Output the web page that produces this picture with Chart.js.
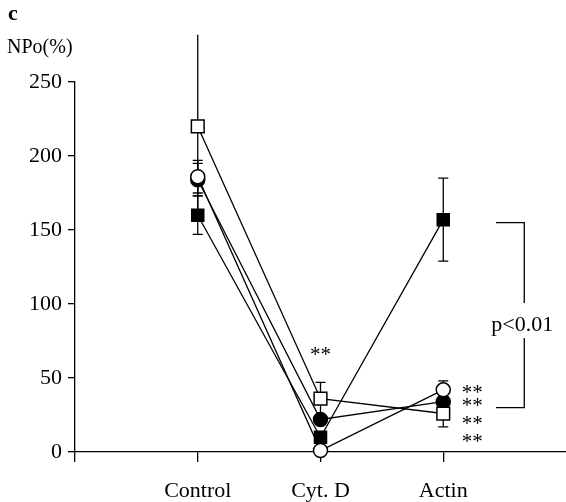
<!DOCTYPE html>
<html>
  <head>
    <title>NPo</title>
    <script src="https://cdn.jsdelivr.net/npm/chart.js"></script>
    <style>
      body,
      html {
        margin: 0;
        padding: 0;
        background-color: white;
        overflow: hidden;
      }
      #wrap {
        position: relative;
        width: 566px;
        height: 502px;
      }
    </style>
  </head>
  <body>
    <div id="wrap">
      <canvas id="chartCanvas"></canvas>
    </div>
    <script>
      const categories = ["Control", "Cyt. D", "Actin"];
      const yTicks = [0, 50, 100, 150, 200, 250];

      const openSquare = [220, 36, 26];
      const openSquareErr = [62, 11, 9];
      const openCircle = [186, 1, 42];
      const openCircleErr = [11, 0, 6];
      const filledSquare = [160, 10, 157];
      const filledSquareErr = [13, 0, 28];
      const filledCircle = [184, 22, 34];
      const filledCircleErr = [11, 0, 0];

      const cytStars = [67];
      const actinStars = [43, 34, 22, 10];
      const bracketTop = 155;
      const bracketBottom = 30;
      const pLabel = "p<0.01";

      const SERIF = "'Liberation Serif', 'Times New Roman', serif";

      function pts(values) {
        return values.map((v, i) => ({ x: i + 1, y: v }));
      }

      function series(values, errors, style, fill, radius) {
        return {
          data: pts(values),
          errors: errors,
          borderColor: "black",
          borderWidth: 1.3,
          pointStyle: style,
          pointRadius: radius,
          pointBackgroundColor: fill,
          pointBorderColor: "black",
          pointBorderWidth: 1.5,
          showLine: true,
          clip: false,
        };
      }

      // error bars drawn behind the markers
      const errorBars = {
        id: "errorBars",
        beforeDatasetsDraw(chart) {
          const ctx = chart.ctx;
          const xs = chart.scales.x;
          const ys = chart.scales.y;
          ctx.save();
          ctx.strokeStyle = "black";
          ctx.lineWidth = 1.3;
          chart.data.datasets.forEach((ds) => {
            ds.data.forEach((p, i) => {
              const e = ds.errors[i];
              if (!e) return;
              const px = xs.getPixelForValue(p.x);
              const top = ys.getPixelForValue(p.y + e);
              const bot = ys.getPixelForValue(p.y - e);
              ctx.beginPath();
              ctx.moveTo(px, top);
              ctx.lineTo(px, bot);
              // the bar running off the top of the axis has no cap
              if (p.y + e <= ys.max) {
                ctx.moveTo(px - 5, top);
                ctx.lineTo(px + 5, top);
              }
              ctx.moveTo(px - 5, bot);
              ctx.lineTo(px + 5, bot);
              ctx.stroke();
            });
          });
          ctx.restore();
        },
      };

      const notes = {
        id: "notes",
        afterDraw(chart) {
          const ctx = chart.ctx;
          const xs = chart.scales.x;
          const ys = chart.scales.y;
          ctx.save();
          ctx.fillStyle = "black";
          ctx.strokeStyle = "black";
          ctx.textBaseline = "alphabetic";
          ctx.font = "bold 22px " + SERIF;
          ctx.fillText("c", 8, 20);
          ctx.font = "20px " + SERIF;
          ctx.fillText("NPo(%)", 7, 53);

          ctx.font = "21px " + SERIF;
          ctx.textAlign = "center";
          ctx.textBaseline = "middle";
          cytStars.forEach((v) => {
            ctx.fillText("**", xs.getPixelForValue(2), ys.getPixelForValue(v) + 3);
          });
          ctx.textAlign = "left";
          actinStars.forEach((v) => {
            ctx.fillText("**", xs.getPixelForValue(3.15), ys.getPixelForValue(v) + 5);
          });

          // significance bracket
          const x0 = xs.getPixelForValue(3.43);
          const x1 = xs.getPixelForValue(3.66);
          const yt = ys.getPixelForValue(bracketTop);
          const yb = ys.getPixelForValue(bracketBottom);
          const ym = (yt + yb) / 2;
          ctx.lineWidth = 1.3;
          ctx.beginPath();
          ctx.moveTo(x0, yt);
          ctx.lineTo(x1, yt);
          ctx.lineTo(x1, ym - 12);
          ctx.moveTo(x1, ym + 23);
          ctx.lineTo(x1, yb);
          ctx.lineTo(x0, yb);
          ctx.stroke();
          ctx.font = "22px " + SERIF;
          ctx.textAlign = "center";
          ctx.fillText(pLabel, x1 - 2, ym + 10);
          ctx.restore();
        },
      };

      var ctx = document.getElementById("chartCanvas");

      var chart = new Chart(ctx, {
        type: "scatter",
        data: {
          datasets: [
            series(openSquare, openSquareErr, "rect", "white", 9),
            series(openCircle, openCircleErr, "circle", "white", 7),
            series(filledCircle, filledCircleErr, "circle", "black", 7),
            series(filledSquare, filledSquareErr, "rect", "black", 8.5),
          ],
        },
        options: {
          responsive: true,
          maintainAspectRatio: false,
          animation: false,
          layout: {
            autoPadding: false,
            padding: { top: 82, left: 0, right: 0, bottom: 0 },
          },
          scales: {
            x: {
              type: "linear",
              min: 0,
              max: 4,
              afterFit: (s) => {
                s.height = 50;
              },
              afterBuildTicks: (s) => {
                s.ticks = [0, 1, 2, 3].map((v) => ({ value: v }));
              },
              border: { color: "black", width: 1.3 },
              grid: {
                drawOnChartArea: false,
                drawTicks: true,
                tickLength: 10,
                color: "black",
                lineWidth: 1.3,
              },
              ticks: {
                color: "black",
                padding: 16,
                maxRotation: 0,
                autoSkip: false,
                font: { family: SERIF, size: 22 },
                callback: (v) => categories[v - 1] || "",
              },
            },
            y: {
              min: 0,
              max: 250,
              afterFit: (s) => {
                s.width = 75;
              },
              afterBuildTicks: (s) => {
                s.ticks = yTicks.map((v) => ({ value: v }));
              },
              border: { color: "black", width: 1.3 },
              grid: {
                drawOnChartArea: false,
                drawTicks: true,
                tickLength: 7,
                color: "black",
                lineWidth: 1.3,
              },
              ticks: {
                color: "black",
                padding: 6,
                font: { family: SERIF, size: 22 },
              },
            },
          },
          plugins: {
            legend: { display: false },
            tooltip: { enabled: false },
          },
        },
        plugins: [errorBars, notes],
      });
    </script>
  </body>
</html>
